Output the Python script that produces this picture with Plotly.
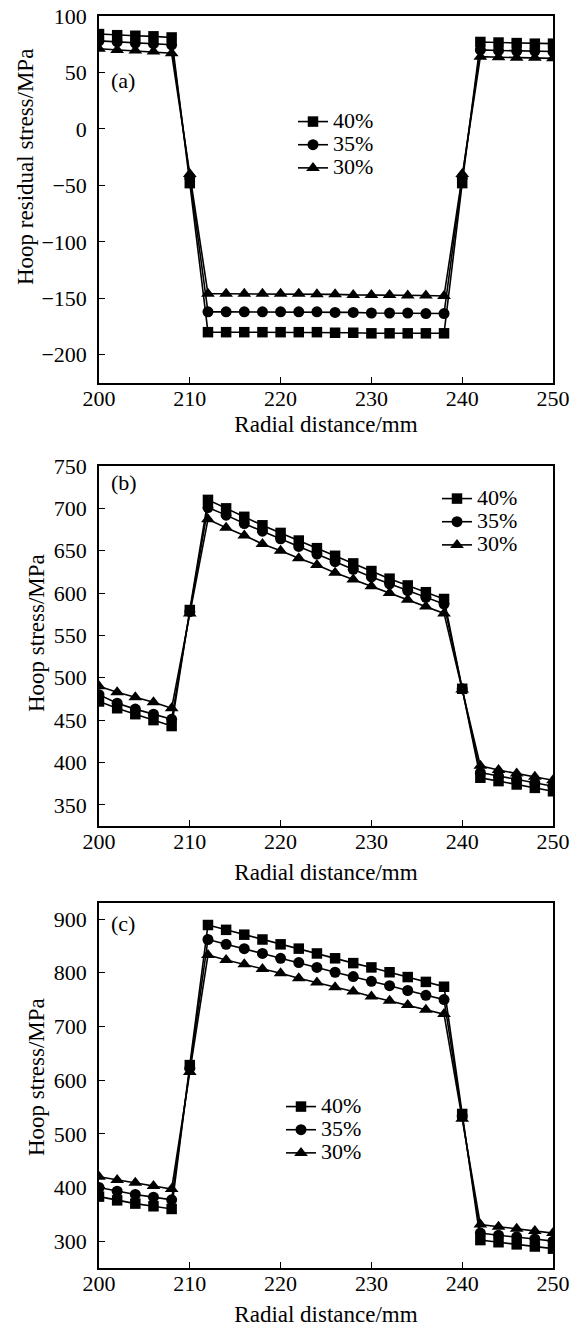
import plotly.graph_objects as go
from plotly.subplots import make_subplots

# ---------------- data ----------------
radial = [200, 202, 204, 206, 208, 210, 212, 214, 216, 218, 220, 222, 224,
          226, 228, 230, 232, 234, 236, 238, 240, 242, 244, 246, 248, 250]
series_names = ["40%", "35%", "30%"]

# (a) Hoop residual stress / MPa
a_40 = [84, 83, 82.5, 82, 81, -48,
        -180, -180, -180, -180, -180, -180, -180, -180.5, -180.5, -181, -181, -181, -181, -181,
        -48, 77, 76.5, 76, 75.5, 75.5]
a_35 = [78, 77, 76, 75.5, 74.5, -43,
        -162, -162, -162, -162, -162, -162, -162, -162.5, -162.5, -163, -163, -163, -163.5, -163.5,
        -43, 70, 69.5, 69, 69, 68.5]
a_30 = [71, 70, 69.5, 68.5, 67, -40,
        -146, -146, -146, -146, -146, -146, -146.5, -146.5, -147, -147, -147, -147.5, -147.5, -148,
        -40, 64, 63.5, 63, 63, 62.5]

# (b) Hoop stress / MPa
b_40 = [472, 464, 457, 450, 443, 580,
        710, 700, 690, 680, 671, 662, 653, 644, 635, 626, 617, 609, 601, 593,
        487, 382, 378, 374, 370, 366]
b_35 = [480, 470, 463, 457, 451, 578,
        701, 692, 682, 673, 664, 655, 646, 637, 628, 619, 611, 603, 595, 587,
        487, 388, 384, 380, 376, 372]
b_30 = [490, 483, 477, 471, 464, 576,
        687, 677, 668, 658, 650, 641, 633, 624, 616, 608, 600, 592, 584, 576,
        486, 396, 391, 387, 383, 379]

# (c) Hoop stress / MPa
c_40 = [383, 376, 370, 365, 360, 628,
        889, 880, 871, 862, 853, 845, 836, 827, 818, 810, 801, 792, 783, 774,
        537, 302, 298, 294, 290, 286]
c_35 = [400, 393, 387, 382, 377, 622,
        862, 853, 845, 836, 827, 819, 810, 801, 793, 784, 776, 767, 758, 750,
        533, 315, 311, 308, 304, 300]
c_30 = [420, 414, 409, 403, 397, 615,
        833, 824, 816, 807, 799, 790, 782, 773, 765, 756, 748, 740, 731, 723,
        528, 331, 327, 323, 319, 315]

panel_labels = ["(a)", "(b)", "(c)"]
y_titles = ["Hoop residual stress/MPa", "Hoop stress/MPa", "Hoop stress/MPa"]
x_title = "Radial distance/mm"
y_ranges = [[-225, 100], [325, 750], [250, 930]]
y_dticks = [50, 50, 100]

panels = [[a_40, a_35, a_30], [b_40, b_35, b_30], [c_40, c_35, c_30]]
symbols = ["square", "circle", "triangle-up"]
msizes = [10.5, 11, 12]
legend_ids = ["legend", "legend2", "legend3"]

FONT = "Liberation Serif, Times New Roman, serif"

# ---------------- figure ----------------
W, H = 571, 1329
ML, MR, MT, MB = 99, 18, 16, 61
plot_w = W - ML - MR
plot_h = H - MT - MB


def fy(py):
    return (H - MB - py) / plot_h


def fx(px):
    return (px - ML) / plot_w


tops = [16, 466, 903]
bots = [383, 826, 1268]
domains = [[fy(bots[i]), fy(tops[i])] for i in range(3)]

fig = make_subplots(rows=3, cols=1)

for i, data in enumerate(panels):
    for j, ys in enumerate(data):
        fig.add_trace(go.Scatter(
            x=radial, y=ys, mode="lines+markers",
            name=f'<span style="font-size:22px">{series_names[j]}</span>',
            line=dict(color="black", width=1.6),
            marker=dict(symbol=symbols[j], size=msizes[j], color="black"),
            legend=legend_ids[i],
        ), row=i + 1, col=1)

axis_common = dict(
    showline=True, linecolor="black", linewidth=1.5, mirror=True,
    ticks="inside", ticklen=6, tickwidth=1.3, tickcolor="black",
    showgrid=False, zeroline=False,
    tickfont=dict(family=FONT, size=22, color="black"),
)

ytitle_pos = [(25, 167), (36, 633), (36, 1077)]
label_pos = [80, 483, 923]
xtitle_standoff = [6, 11, 11]

for i in range(3):
    xa = "xaxis" if i == 0 else f"xaxis{i+1}"
    ya = "yaxis" if i == 0 else f"yaxis{i+1}"
    fig.layout[xa].update(
        domain=[0, 1], range=[200, 250], dtick=10, tick0=200,
        ticklabelstandoff=-5,
        title=dict(text=x_title, font=dict(family=FONT, size=23, color="black"),
                   standoff=xtitle_standoff[i]),
        **axis_common,
    )
    fig.layout[ya].update(
        domain=domains[i], range=y_ranges[i], dtick=y_dticks[i],
        ticklabelstandoff=6,
        **axis_common,
    )
    sfx = "" if i == 0 else str(i + 1)
    fig.add_annotation(
        text=panel_labels[i], xref=f"x{sfx} domain", yref=f"y{sfx} domain",
        x=0.022, y=(bots[i] - label_pos[i]) / (bots[i] - tops[i]),
        xanchor="left", yanchor="middle", showarrow=False,
        font=dict(family=FONT, size=22, color="black"),
    )
    fig.add_annotation(
        text=y_titles[i], xref="paper", yref="paper",
        x=fx(ytitle_pos[i][0]), y=fy(ytitle_pos[i][1]),
        xanchor="center", yanchor="middle", textangle=-90, showarrow=False,
        font=dict(family=FONT, size=23, color="black"),
    )

leg_common = dict(
    font=dict(family=FONT, size=15.5, color="black"),
    bgcolor="rgba(0,0,0,0)", borderwidth=0, tracegroupgap=0,
    xanchor="left", yanchor="top",
)
fig.update_layout(
    legend=dict(x=fx(293), y=fy(105), **leg_common),
    legend2=dict(x=fx(437), y=fy(482), **leg_common),
    legend3=dict(x=fx(281), y=fy(1090), **leg_common),
)

fig.update_layout(
    width=W, height=H,
    margin=dict(l=ML, r=MR, t=MT, b=MB, autoexpand=False),
    paper_bgcolor="white", plot_bgcolor="white",
    showlegend=True,
    font=dict(family=FONT, color="black"),
)

fig.write_html("out.html")
